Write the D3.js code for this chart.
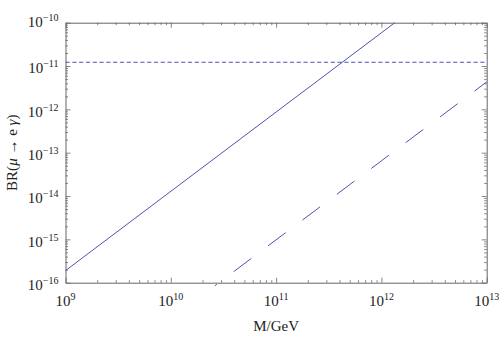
<!DOCTYPE html>
<html>
<head>
<meta charset="utf-8">
<script src="https://cdn.jsdelivr.net/npm/d3@7"></script>
<style>
  body { margin: 0; background: #fff; }
  svg text { font-family: "Liberation Serif", "DejaVu Serif", serif; fill: #222; }
</style>
</head>
<body>
<div id="chart"></div>
<script>
// chart size and plot box
let width = 500, height = 337;
let plotLeft = 65.5, plotRight = 486.7, plotTop = 22.7, plotBottom = 282.7;

// decade labels (exponents)
const xExponents = [9, 10, 11, 12, 13];
const yExponents = [-16, -15, -14, -13, -12, -11, -10];

// experimental bound (short dashed line)
const limitM = [1e9, 1e13];
const limitBR = [1.22e-11, 1.22e-11];

// solid curve
const solidM = [1e9, 1.34e12];
const solidBR = [1.9e-16, 1e-10];

// long dashed curve
const dashedM = [2.62e10, 1e13];
const dashedBR = [8.5e-17, 4.3e-12];

let lineColor = "#5252b2";
let frameColor = "#666";

let svg = d3.select("#chart").append("svg")
  .attr("width", width)
  .attr("height", height);

let xScale = d3.scaleLog().domain([1e9, 1e13]).range([plotLeft, plotRight]);
let yScale = d3.scaleLog().domain([1e-16, 1e-10]).range([plotBottom, plotTop]);

// major and minor tick values
function minorTicks(lo, hi) {
  let out = [];
  for (let e = lo; e < hi; e++) {
    for (let m = 2; m <= 9; m++) out.push(m * Math.pow(10, e));
  }
  return out;
}
let xMajor = xExponents.map(e => Math.pow(10, e));
let yMajor = yExponents.map(e => Math.pow(10, e));
let xMinor = minorTicks(9, 13);
let yMinor = minorTicks(-16, -10);

// axes on all four sides, ticks pointing in
function addAxis(axisFn, scale, values, size, transform, keepDomain) {
  let g = svg.append("g")
    .attr("transform", transform)
    .call(axisFn(scale).tickValues(values).tickSize(-size).tickSizeOuter(0).tickFormat(""));
  g.selectAll("line").attr("stroke", frameColor).attr("stroke-width", 0.8);
  g.select(".domain").attr("stroke", frameColor).attr("stroke-width", 1)
    .style("display", keepDomain ? null : "none");
  return g;
}

addAxis(d3.axisBottom, xScale, xMajor, 5, `translate(0,${plotBottom})`, true);
addAxis(d3.axisBottom, xScale, xMinor, 2.5, `translate(0,${plotBottom})`, false);
addAxis(d3.axisTop, xScale, xMajor, 5, `translate(0,${plotTop})`, true);
addAxis(d3.axisTop, xScale, xMinor, 2.5, `translate(0,${plotTop})`, false);
addAxis(d3.axisLeft, yScale, yMajor, 5, `translate(${plotLeft},0)`, true);
addAxis(d3.axisLeft, yScale, yMinor, 2.5, `translate(${plotLeft},0)`, false);
addAxis(d3.axisRight, yScale, yMajor, 5, `translate(${plotRight},0)`, true);
addAxis(d3.axisRight, yScale, yMinor, 2.5, `translate(${plotRight},0)`, false);

// tick labels with superscript exponents
function powerLabel(sel, e) {
  sel.append("tspan").attr("font-size", 15).text("10");
  sel.append("tspan").attr("font-size", 10).attr("dy", -6)
    .text(String(e).replace("-", "\u2212"));
}

svg.append("g").selectAll("text")
  .data(xExponents)
  .join("text")
  .attr("x", d => xScale(Math.pow(10, d)))
  .attr("y", 306)
  .attr("text-anchor", "middle")
  .each(function(d) { powerLabel(d3.select(this), d); });

svg.append("g").selectAll("text")
  .data(yExponents)
  .join("text")
  .attr("x", plotLeft - 7)
  .attr("y", d => yScale(Math.pow(10, d)) + (d == -10 ? 4.5 : 7.3))
  .attr("text-anchor", "end")
  .each(function(d) { powerLabel(d3.select(this), d); });

// axis titles
svg.append("text")
  .attr("x", (plotLeft + plotRight) / 2)
  .attr("y", 331)
  .attr("text-anchor", "middle")
  .attr("font-size", 15)
  .text("M/GeV");

let yTitle = svg.append("text")
  .attr("transform", `translate(17,${(plotTop + plotBottom) / 2}) rotate(-90)`)
  .attr("text-anchor", "middle")
  .attr("font-size", 15);
yTitle.append("tspan").text("BR(");
yTitle.append("tspan").attr("font-style", "italic").text("\u03bc");
yTitle.append("tspan").text(" \u2192 e ");
yTitle.append("tspan").attr("font-style", "italic").text("\u03b3");
yTitle.append("tspan").text(")");

// curves
let line = d3.line()
  .x(d => xScale(d[0]))
  .y(d => yScale(d[1]));

svg.append("path")
  .datum(d3.zip(limitM, limitBR))
  .attr("d", line)
  .attr("fill", "none")
  .attr("stroke", lineColor)
  .attr("stroke-width", 1.1)
  .attr("stroke-dasharray", "4.2,2.6");

svg.append("path")
  .datum(d3.zip(solidM, solidBR))
  .attr("d", line)
  .attr("fill", "none")
  .attr("stroke", lineColor)
  .attr("stroke-width", 1);

svg.append("path")
  .datum(d3.zip(dashedM, dashedBR))
  .attr("d", line)
  .attr("fill", "none")
  .attr("stroke", lineColor)
  .attr("stroke-width", 1)
  .attr("stroke-dasharray", "22,21")
  .attr("stroke-dashoffset", 19.5);
</script>
</body>
</html>
